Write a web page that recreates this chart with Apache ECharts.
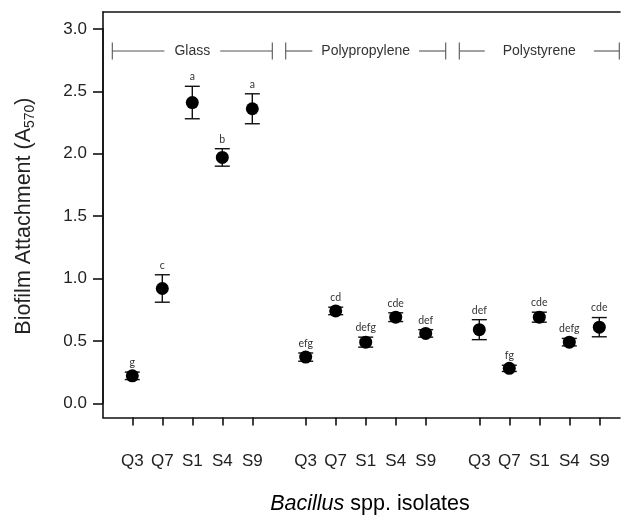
<!DOCTYPE html>
<html>
<head>
<meta charset="utf-8">
<script src="https://cdn.jsdelivr.net/npm/echarts@6/dist/echarts.min.js"></script>
<style>
html,body{margin:0;padding:0;background:#fff;}
#c{width:621px;height:515px;}
</style>
</head>
<body>
<div id="c"></div>
<script>
// ---- data ----
const isolates = ['Q3', 'Q7', 'S1', 'S4', 'S9'];
const surfaces = ['Glass', 'Polypropylene', 'Polystyrene'];
const glassMean = [0.22, 0.92, 2.41, 1.97, 2.36];
const glassErr = [0.03, 0.11, 0.13, 0.07, 0.12];
const glassLetters = ['g', 'c', 'a', 'b', 'a'];
const ppMean = [0.37, 0.74, 0.49, 0.69, 0.56];
const ppErr = [0.033, 0.03, 0.04, 0.035, 0.03];
const ppLetters = ['efg', 'cd', 'defg', 'cde', 'def'];
const psMean = [0.59, 0.28, 0.69, 0.49, 0.61];
const psErr = [0.08, 0.025, 0.04, 0.03, 0.077];
const psLetters = ['def', 'fg', 'cde', 'defg', 'cde'];
const yMin = 0, yMax = 3, yStep = 0.5;
const yTitle = 'Biofilm Attachment (A';
const ySub = '570';
const xTitleItalic = 'Bacillus';
const xTitleRest = ' spp. isolates';

const groupMeans = [glassMean, ppMean, psMean];
const groupErrs = [glassErr, ppErr, psErr];
const groupLetters = [glassLetters, ppLetters, psLetters];

// ---- layout ----
const W = 621, H = 515;
const axisLeft = 103;
const frameTop = 12;
const unitPx = 124.8;
const zeroY = 403.3;
const frameBottom = 417.6;
const frameMin = -(frameBottom - zeroY) / unitPx;
const frameMax = yMax + (zeroY - 3 * unitPx - frameTop) / unitPx;
const groupLefts = [117.3, 290.7, 464.3];
const groupWidth = 150;
const font = '"Liberation Sans", Arial, sans-serif';
const axisColor = '#111';

const grids = [
  {left: axisLeft, right: 1, top: frameTop, bottom: H - frameBottom},
  {left: axisLeft, right: 1, top: zeroY - 3 * unitPx, bottom: H - zeroY}
];
groupLefts.forEach(l => grids.push({left: l, width: groupWidth, top: frameTop, bottom: H - frameBottom}));

const xAxes = [
  {gridIndex: 0, type: 'value', position: 'bottom', min: 0, max: 1, show: true,
   axisLine: {show: true, onZero: false, lineStyle: {color: axisColor, width: 1.6}},
   axisTick: {show: false}, axisLabel: {show: false}, splitLine: {show: false}},
  {gridIndex: 0, type: 'value', position: 'top', min: 0, max: 1, show: true,
   axisLine: {show: true, onZero: false, lineStyle: {color: axisColor, width: 1.6}},
   axisTick: {show: false}, axisLabel: {show: false}, splitLine: {show: false}},
  {gridIndex: 1, type: 'value', show: false}
];
const yAxes = [
  {gridIndex: 0, type: 'value', min: frameMin, max: frameMax,
   axisLine: {show: true, onZero: false, lineStyle: {color: axisColor, width: 1.6}},
   axisTick: {show: false}, axisLabel: {show: false}, splitLine: {show: false}},
  {gridIndex: 1, type: 'value', min: yMin, max: yMax, interval: yStep,
   axisLine: {show: true, onZero: false, lineStyle: {color: axisColor, width: 1.6}},
   axisTick: {show: true, length: 10, lineStyle: {color: axisColor, width: 1.6}},
   axisLabel: {fontFamily: font, fontSize: 17, color: '#222', margin: 16,
     formatter: v => v.toFixed(1)},
   splitLine: {show: false},
   name: '{t|' + yTitle + '}{s|' + ySub + '}{t|)}',
   nameLocation: 'middle', nameGap: 66, nameRotate: 90,
   nameTextStyle: {rich: {
     t: {fontFamily: font, fontSize: 21.5, color: '#222', lineHeight: 26},
     s: {fontFamily: font, fontSize: 14, color: '#222', lineHeight: 14, verticalAlign: 'bottom'}
   }}}
];
groupLefts.forEach((l, gi) => {
  xAxes.push({gridIndex: 2 + gi, type: 'category', data: isolates, boundaryGap: true,
    axisLine: {show: false, onZero: false},
    axisTick: {show: true, alignWithLabel: true, length: 8, lineStyle: {color: axisColor, width: 1.6}},
    axisLabel: {fontFamily: font, fontSize: 17, color: '#222', margin: 35}});
  yAxes.push({gridIndex: 2 + gi, type: 'value', min: frameMin, max: frameMax, show: false});
});

const series = [];
groupMeans.forEach((means, gi) => {
  const errs = groupErrs[gi];
  const letters = groupLetters[gi];
  series.push({
    type: 'custom',
    xAxisIndex: 3 + gi, yAxisIndex: 2 + gi,
    data: means.map((m, i) => [i, m, errs[i]]),
    encode: {x: 0, y: 1},
    renderItem: function (params, api) {
      const x = api.value(0), m = api.value(1), e = api.value(2);
      const c = api.coord([x, m]);
      const t = api.coord([x, m + e]);
      const b = api.coord([x, m - e]);
      const hw = 7.5;
      const st = {stroke: '#111', lineWidth: 1.4};
      return {type: 'group', children: [
        {type: 'line', shape: {x1: c[0], y1: t[1], x2: c[0], y2: b[1]}, style: st},
        {type: 'line', shape: {x1: c[0] - hw, y1: t[1], x2: c[0] + hw, y2: t[1]}, style: st},
        {type: 'line', shape: {x1: c[0] - hw, y1: b[1], x2: c[0] + hw, y2: b[1]}, style: st},
        {type: 'circle', shape: {cx: c[0], cy: c[1], r: 6.5}, style: {fill: '#000'}},
        {type: 'text', x: c[0], y: t[1] - 4, style: {text: letters[params.dataIndex],
          align: 'center', verticalAlign: 'bottom', fill: '#333',
          font: '10.5px Lato, "Noto Sans", sans-serif'}}
      ]};
    }
  });
});

const chart = echarts.init(document.getElementById('c'), null, {renderer: 'canvas'});
chart.setOption({
  animation: false,
  backgroundColor: '#fff',
  grid: grids,
  xAxis: xAxes,
  yAxis: yAxes,
  series: series
});

// surface brackets (decoration) and x title
const brY = 51, brH = 17;
const brGap = [10, 9, 18];
const ctx = document.createElement('canvas').getContext('2d');
ctx.font = '14px "Liberation Sans", Arial, sans-serif';
const els = [];
surfaces.forEach((name, gi) => {
  const x1 = groupLefts[gi] - 5, x2 = groupLefts[gi] + groupWidth + 5;
  const cx = (x1 + x2) / 2;
  const half = ctx.measureText(name).width / 2 + brGap[gi];
  const ls = {stroke: '#555', lineWidth: 1.1};
  els.push({type: 'line', shape: {x1: x1, y1: brY, x2: cx - half, y2: brY}, style: ls});
  els.push({type: 'line', shape: {x1: cx + half, y1: brY, x2: x2, y2: brY}, style: ls});
  els.push({type: 'line', shape: {x1: x1, y1: brY - brH / 2, x2: x1, y2: brY + brH / 2}, style: ls});
  els.push({type: 'line', shape: {x1: x2, y1: brY - brH / 2, x2: x2, y2: brY + brH / 2}, style: ls});
  els.push({type: 'text', x: cx, y: brY, style: {text: name, align: 'center', verticalAlign: 'middle',
    font: '14px "Liberation Sans", Arial, sans-serif', fill: '#333'}});
});
els.push({type: 'text', x: 370, y: 504, style: {
  text: '{i|' + xTitleItalic + '}{n|' + xTitleRest + '}', align: 'center', verticalAlign: 'middle',
  rich: {
    i: {fontFamily: font, fontStyle: 'italic', fontSize: 21.5, color: '#222'},
    n: {fontFamily: font, fontSize: 21.5, color: '#222'}
  }}});
chart.setOption({graphic: els.map(e => Object.assign({silent: true}, e))});
</script>
</body>
</html>
